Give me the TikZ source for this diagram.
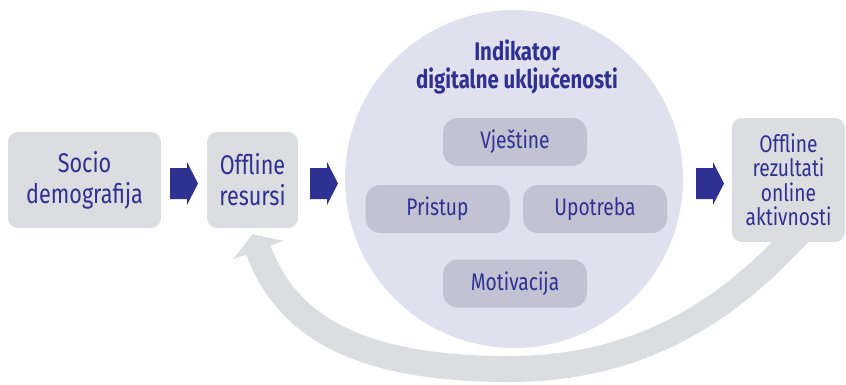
\documentclass[tikz,border=0pt]{standalone}
\usepackage{fontspec}
\setmainfont{Fira Sans}[FakeStretch=0.8]
\usetikzlibrary{arrows.meta,backgrounds}
\definecolor{txtblue}{HTML}{2E3192}
\definecolor{boxgrey}{HTML}{DCDDE0}
\definecolor{circfill}{HTML}{E1E0EE}
\definecolor{innerbox}{HTML}{C2C2D3}
\tikzset{
  outerbox/.style={rectangle, rounded corners=10pt, fill=boxgrey, text=txtblue,
    align=center, inner sep=0pt, font=\fontsize{27}{31}\selectfont},
  innerpill/.style={rectangle, rounded corners=15pt, fill=innerbox, text=txtblue,
    align=center, inner sep=0pt, minimum width=144pt, minimum height=48pt,
    font=\fontsize{24}{27}\selectfont},
  titletext/.style={text=txtblue, align=center, inner sep=0pt,
    font=\fontsize{25.5}{27.5}\selectfont\bfseries},
  feedback/.style={draw=boxgrey, line width=26pt, -{Triangle[width=53pt,length=17pt]}},
  pics/blockarrow/.style={code={
    \fill[txtblue] (0,0) -- ++(0,-15.5) -- ++(17,0) -- ++(0,-6) -- ++(11,21.5)
      -- ++(-11,21.5) -- ++(0,-6) -- ++(-17,0) -- cycle;}}
}
\begin{document}
\begin{tikzpicture}[x=1pt,y=-1pt]
\useasboundingbox (0,0) rectangle (846,384);
% nodes
\node[circle, fill=circfill, minimum size=338pt, inner sep=0pt] (ind) at (514,179) {};
\node[outerbox, minimum width=113pt, minimum height=124pt,
      font=\fontsize{24}{24.5}\selectfont] (rez) at (788.5,180) {Offline\\rezultati\\online\\aktivnosti};
\node[outerbox, minimum width=153pt, minimum height=96pt] (socio) at (84.5,180) {Socio\\demografija};
\node[outerbox, minimum width=91pt, minimum height=96pt] (res) at (252.5,180) {Offline\\resursi};
\node[titletext] (title) at (517,67) {Indikator\\digitalne uključenosti};
\node[innerpill] (vjes) at (515,142) {Vještine};
\node[innerpill] (pris) at (437.5,209) {Pristup};
\node[innerpill] (upo) at (595,209) {Upotreba};
\node[innerpill] (mot) at (515,283.5) {Motivacija};
% block arrows
\pic at (170,183.5) {blockarrow};
\pic at (310,183.5) {blockarrow};
\pic at (696,183.5) {blockarrow};
% feedback arrow behind the boxes
\begin{scope}[on background layer]
\draw[feedback] ([xshift=12pt,yshift=11pt]rez.south) .. controls (746,290) and (660,369) .. (510,369)
   .. controls (360,369) and (287,328) .. ([yshift=-6pt]res.south);
\end{scope}
\end{tikzpicture}
\end{document}
